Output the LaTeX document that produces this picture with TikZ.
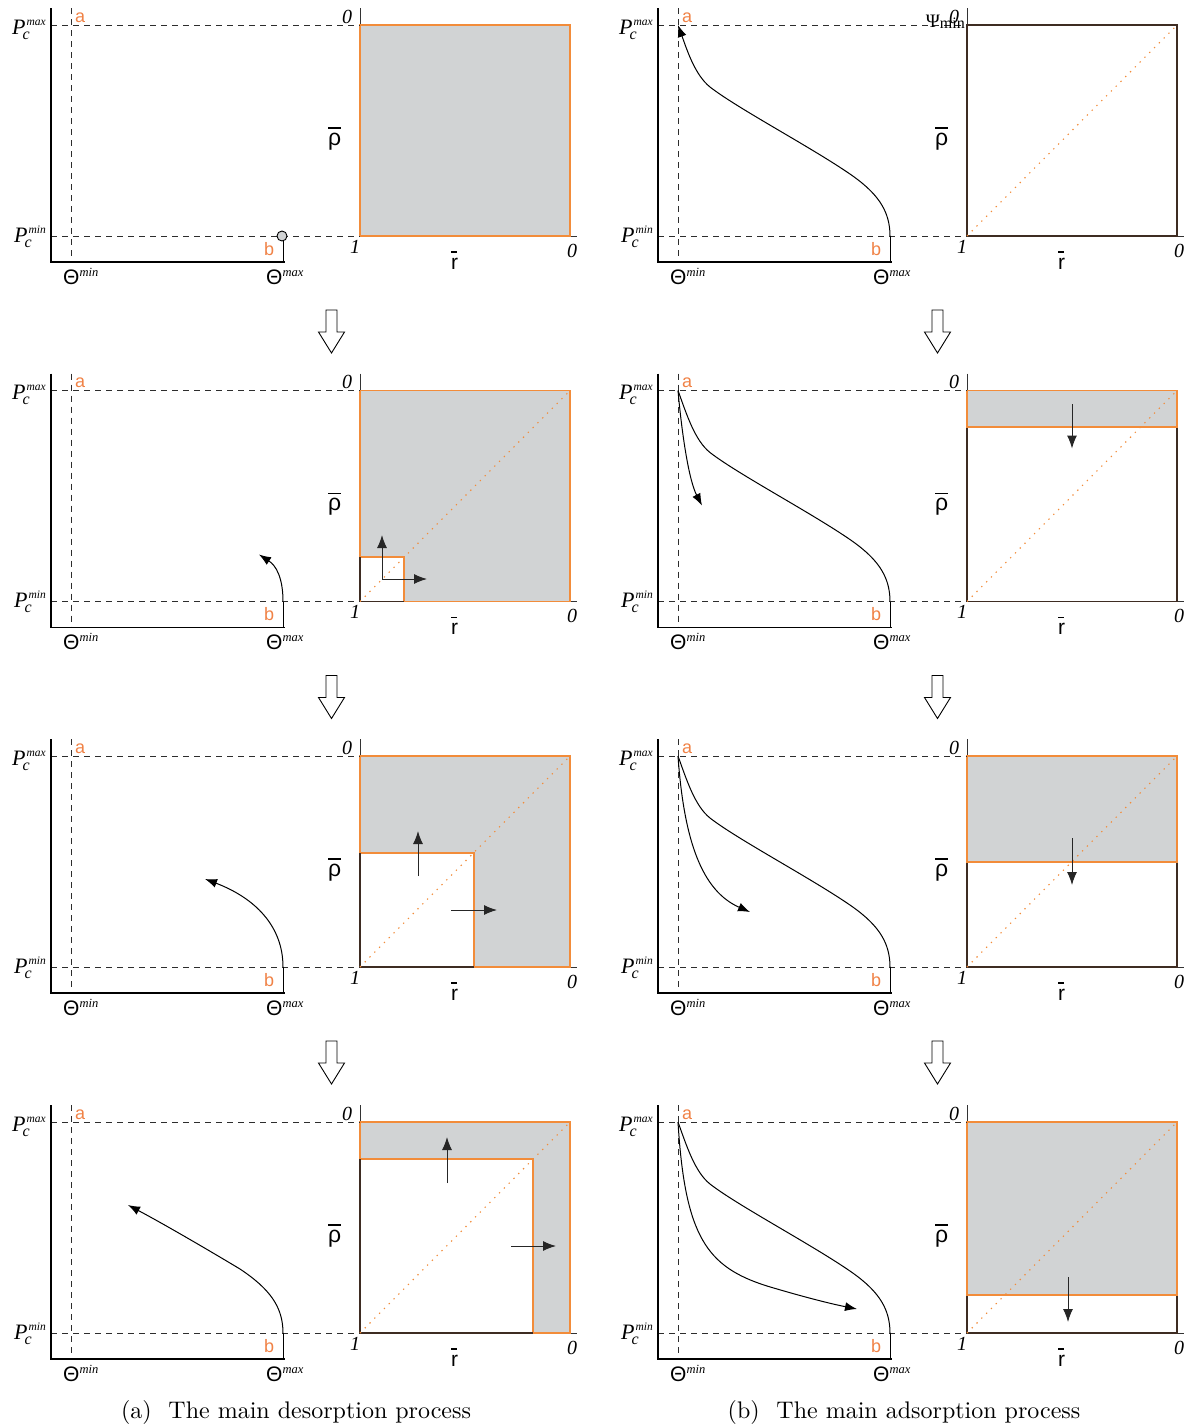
\documentclass[tikz,border=0pt]{standalone}
\usepackage{fontspec}
\usepackage{graphicx}
\usetikzlibrary{arrows.meta}
\newfontfamily\tnr{Liberation Serif}
\newfontfamily\sfl{Liberation Sans}
\definecolor{orng}{RGB}{242,140,58}
\definecolor{lblorange}{RGB}{240,130,70}
\definecolor{panelgray}{RGB}{209,211,212}
\definecolor{dkbrown}{RGB}{62,44,34}
\definecolor{dashgray}{RGB}{45,45,45}
\newcommand\barred[3]{\vbox{\hrule height 1.4pt width #1\kern #2\hbox{#3}}}
\newcommand\pclabel[1]{{\tnr\itshape\fontsize{22}{22}\selectfont P\rlap{\hspace{-3pt}\raisebox{-5pt}{\fontsize{16}{16}\selectfont c}}\hspace{1pt}\raisebox{9pt}{\fontsize{11.5}{11.5}\selectfont #1}}}
\newcommand\thlabel[1]{{\sfl\fontsize{21}{21}\selectfont Θ}\raisebox{8pt}{\tnr\itshape\fontsize{12.5}{12.5}\selectfont #1}}
\tikzset{
 axisline/.style={line width=1.2pt, black},
 thinaxis/.style={line width=0.9pt, black!80},
 dashline/.style={line width=0.9pt, dashgray, dash pattern=on 6pt off 5pt},
 crv/.style={line width=1pt, black},
 arrowtip/.style={-{Latex[length=12pt,width=9pt]}},
 arr/.style={line width=1pt, black!85, -{Latex[length=13pt,width=10pt]}},
 boxline/.style={line width=1.1pt, orng},
 dkline/.style={line width=1.1pt, dkbrown},
 diagline/.style={line width=1.1pt, orng, dash pattern=on 1.3pt off 5.5pt},
 lbl/.style={inner sep=0pt, anchor=base west},
 ablab/.style={lbl, font=\sfl\fontsize{18}{18}\selectfont, text=lblorange},
 numlab/.style={lbl, font=\tnr\itshape\fontsize{20}{20}\selectfont},
 pclab/.style={inner sep=0pt, anchor=base east},
 bararrow/.style={draw=black, line width=0.9pt, fill=white},
}
\newcommand\leftplot[1]{%
 \draw[dashline] (71,8) -- (71,262);
 \draw[dashline] (51,25) -- (360,25);
 \draw[dashline] (51,236) -- (360,236);
 \draw[axisline] (51,8) -- (51,262) -- (285,262);
 \coordinate (a#1) at (71,25);
 \coordinate (b#1) at (283,236);
 \coordinate (e#1) at (283,262);
 \draw[crv] (b#1) -- (e#1);
 \node[pclab] (pmax#1) at (46,34) {\pclabel{max}};
 \node[pclab] (pmin#1) at (46,242) {\pclabel{min}};
 \node[lbl] (tmin#1) at (63,284) {\thlabel{min}};
 \node[lbl] (tmax#1) at (266,284) {\thlabel{max}};
 \node[ablab] (la#1) at (75,22) {a};
 \node[ablab] (lb#1) at (264,255) {b};
}
\newcommand\rightaxes[1]{%
 \draw[thinaxis] (360,8) -- (360,236) -- (577,236);
 \node[numlab] (zt#1) at (342,23) {0};
 \node[numlab] (one#1) at (350,253) {1};
 \node[numlab] (zr#1) at (567,257) {0};
 \node[inner sep=0pt, anchor=base west] (rho#1) at (328,145) {\barred{13pt}{4pt}{\sfl\fontsize{23}{23}\selectfont ρ}};
 \node[inner sep=0pt, anchor=base west] (rb#1) at (451,269) {\barred{6pt}{5pt}{\sfl\fontsize{21}{21}\selectfont r}};
}
\newcommand\mainfwd[1]{(a#1) .. controls (80,50) and (88,75) .. (103,87) .. controls (130,108) and (200,145) .. (240,172) .. controls (270,192) and (283,210) .. (b#1)}
\newcommand\downblock{\draw[bararrow] (-5.5,0) -- (5.5,0) -- (5.5,22) -- (13,22) -- (0,43) -- (-13,22) -- (-5.5,22) -- cycle;}
\begin{document}
\begin{tikzpicture}[x=1pt,y=-1pt]
\useasboundingbox (0,0) rectangle (1195,1428);
%% ===== column (a) =====
% row 1
\begin{scope}
 \fill[panelgray] (360,25) rectangle (570,236);
 \rightaxes{A1}
 \draw[boxline] (360,25) rectangle (570,236);
 \leftplot{A1}
 \node[circle, draw=black, line width=0.9pt, fill=panelgray, minimum size=10pt, inner sep=0pt] (ptA1) at (282,236) {};
\end{scope}
% row 2
\begin{scope}[shift={(0,365.5)}]
 \fill[panelgray] (360,25) rectangle (570,236);
 \fill[white] (360,191.5) rectangle (404,236);
 \rightaxes{A2}
 \draw[boxline] (360,25) rectangle (570,236);
 \draw[boxline] (360,191.5) rectangle (404,236);
 \draw[dkline] (360,191.5) -- (360,236) -- (404,236);
 \draw[diagline] (360,236) -- (570,25);
 \draw[arr] (382,213.5) -- (382,169.5);
 \draw[arr] (382,213.5) -- (427,213.5);
 \leftplot{A2}
 \draw[crv, arrowtip] (bA2) .. controls (283,212) and (276,200) .. (259,189);
\end{scope}
% row 3
\begin{scope}[shift={(0,731)}]
 \fill[panelgray] (360,25) rectangle (570,236);
 \fill[white] (360,122) rectangle (474,236);
 \rightaxes{A3}
 \draw[boxline] (360,25) rectangle (570,236);
 \draw[boxline] (360,122) rectangle (474,236);
 \draw[dkline] (360,122) -- (360,236) -- (474,236);
 \draw[diagline] (360,236) -- (570,25);
 \draw[arr] (418,145) -- (418,100);
 \draw[arr] (451,179) -- (497,179);
 \leftplot{A3}
 \draw[crv, arrowtip] (bA3) .. controls (283,195) and (255,167) .. (205,148);
\end{scope}
% row 4
\begin{scope}[shift={(0,1097)}]
 \fill[panelgray] (360,25) rectangle (570,236);
 \fill[white] (360,62) rectangle (533,236);
 \rightaxes{A4}
 \draw[boxline] (360,25) rectangle (570,236);
 \draw[boxline] (360,62) rectangle (533,236);
 \draw[dkline] (360,62) -- (360,236) -- (533,236);
 \draw[diagline] (360,236) -- (570,25);
 \draw[arr] (447,86) -- (447,40);
 \draw[arr] (511,149) -- (556,149);
 \leftplot{A4}
 \draw[crv, arrowtip] (bA4) .. controls (283,210) and (270,192) .. (240,172) .. controls (200,148) and (160,125) .. (128,108);
\end{scope}
%% ===== column (b) =====
% row 1
\begin{scope}[shift={(607,0)}]
 \rightaxes{B1}
 \draw[dkline] (360,25) rectangle (570,236);
 \draw[diagline] (360,236) -- (570,25);
 \leftplot{B1}
 \draw[crv, arrowtip] (bB1) .. controls (283,210) and (270,192) .. (240,172) .. controls (200,145) and (130,108) .. (103,87) .. controls (88,75) and (80,50) .. (aB1);
 \node[inner sep=0pt, anchor=base east] (psiB1) at (358,27) {\tnr\fontsize{19}{19}\selectfont Ψ\raisebox{-1.5pt}{\fontsize{16}{16}\selectfont min}};
\end{scope}
% row 2
\begin{scope}[shift={(607,365.5)}]
 \fill[panelgray] (360,25) rectangle (570,61.5);
 \rightaxes{B2}
 \draw[dkline] (360,25) rectangle (570,236);
 \draw[boxline] (360,25) rectangle (570,61.5);
 \draw[diagline] (360,236) -- (570,25);
 \draw[arr] (465,38.5) -- (465,83);
 \leftplot{B2}
 \draw[crv] \mainfwd{B2};
 \draw[crv, arrowtip] (aB2) .. controls (75,70) and (82,115) .. (95,140);
\end{scope}
% row 3
\begin{scope}[shift={(607,731)}]
 \fill[panelgray] (360,25) rectangle (570,131);
 \rightaxes{B3}
 \draw[dkline] (360,25) rectangle (570,236);
 \draw[boxline] (360,25) rectangle (570,131);
 \draw[diagline] (360,236) -- (570,25);
 \draw[arr] (465,107) -- (465,154);
 \leftplot{B3}
 \draw[crv] \mainfwd{B3};
 \draw[crv, arrowtip] (aB3) .. controls (77,110) and (95,160) .. (143,181);
\end{scope}
% row 4
\begin{scope}[shift={(607,1097)}]
 \fill[panelgray] (360,25) rectangle (570,198);
 \rightaxes{B4}
 \draw[dkline] (360,25) rectangle (570,236);
 \draw[boxline] (360,25) rectangle (570,198);
 \draw[diagline] (360,236) -- (570,25);
 \draw[arr] (461,180) -- (461,225);
 \leftplot{B4}
 \draw[crv] \mainfwd{B4};
 \draw[crv, arrowtip] (aB4) .. controls (78,140) and (100,170) .. (160,189) .. controls (190,198) and (220,206) .. (250,212);
\end{scope}
%% ===== block arrows =====
\begin{scope}[shift={(331.5,310)}]\downblock\end{scope}
\begin{scope}[shift={(331.5,675.5)}]\downblock\end{scope}
\begin{scope}[shift={(331.5,1041)}]\downblock\end{scope}
\begin{scope}[shift={(937.5,310)}]\downblock\end{scope}
\begin{scope}[shift={(937.5,675.5)}]\downblock\end{scope}
\begin{scope}[shift={(937.5,1041)}]\downblock\end{scope}
%% ===== captions =====
\node[anchor=base, inner sep=0pt] (capa) at (296,1418) {\scalebox{2.4}{\normalsize (a)\hspace{7pt}The main desorption process}};
\node[anchor=base, inner sep=0pt] (capb) at (904,1418) {\scalebox{2.4}{\normalsize (b)\hspace{7pt}The main adsorption process}};
\end{tikzpicture}
\end{document}
